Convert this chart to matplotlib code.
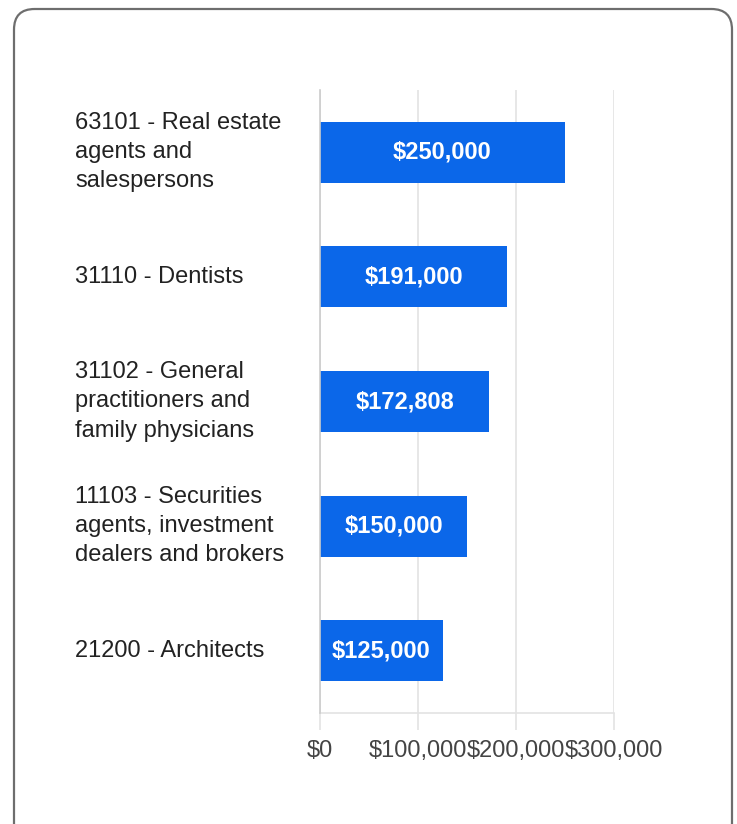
import matplotlib
matplotlib.use("Agg")
import matplotlib.pyplot as plt
from matplotlib.patches import FancyBboxPatch
from matplotlib.ticker import FuncFormatter
import matplotlib.transforms as mtransforms

categories = [
    "63101 - Real estate\nagents and\nsalespersons",
    "31110 - Dentists",
    "31102 - General\npractitioners and\nfamily physicians",
    "11103 - Securities\nagents, investment\ndealers and brokers",
    "21200 - Architects",
]
values = [250000, 191000, 172808, 150000, 125000]
value_labels = ["$250,000", "$191,000", "$172,808", "$150,000", "$125,000"]
xticks = [0, 100000, 200000, 300000]

plt.rcParams['font.family'] = ['Liberation Sans', 'DejaVu Sans']

W, H = 737, 824
fig = plt.figure(figsize=(W / 100, H / 100), dpi=100)

# rounded border
border = FancyBboxPatch((14 / W, -20 / H), (732 - 14) / W, (H - 9 + 20) / H,
                        boxstyle="round,pad=0,rounding_size=0.028",
                        transform=fig.transFigure, facecolor="none",
                        edgecolor="#6e6e6e", linewidth=1.6, zorder=10,
                        mutation_aspect=W / H)
fig.patches.append(border)

left, right = 320 / W, 614 / W
top, bottom = 1 - 90 / H, 1 - 713 / H
ax = fig.add_axes([left, bottom, right - left, top - bottom])
ax.set_facecolor("none")

FS = 17

y = list(range(len(categories)))
ax.barh(y, values, height=0.49, color="#0b67e9", zorder=3)
ax.set_ylim(len(categories) - 0.5, -0.5)
ax.set_xlim(0, 300000)

for yi, v, lab in zip(y, values, value_labels):
    ax.text(v / 2, yi, lab, ha="center", va="center", color="white",
            fontsize=FS, fontweight="bold", zorder=4)

trans = mtransforms.blended_transform_factory(fig.transFigure, ax.transData)
for yi, cat in zip(y, categories):
    ax.text(75 / W, yi, cat, transform=trans, ha="left", va="center",
            fontsize=FS, color="#222222", linespacing=1.42, clip_on=False)

ax.set_xticks(xticks)
ax.xaxis.set_major_formatter(FuncFormatter(lambda v, p: "$" + format(int(v), ",")))
ax.set_yticks([])
ax.grid(axis="x", color="#e3e3e3", linewidth=1.2, zorder=1)
ax.tick_params(axis="x", length=12.2, width=1.2, color="#e3e3e3",
               labelsize=FS, labelcolor="#444444", pad=7)
for s in ["top", "right"]:
    ax.spines[s].set_visible(False)
ax.spines["left"].set_color("#cccccc")
ax.spines["left"].set_linewidth(1.2)
ax.spines["left"].set_zorder(5)
ax.spines["bottom"].set_color("#e3e3e3")
ax.spines["bottom"].set_linewidth(1.2)

fig.savefig("out.png", dpi=100)
